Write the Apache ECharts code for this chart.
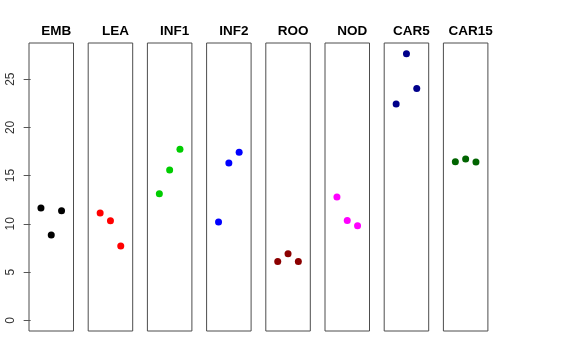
<!DOCTYPE html>
<html><head><meta charset="utf-8">
<script src="https://cdn.jsdelivr.net/npm/echarts@6/dist/echarts.min.js"></script>
<style>html,body{margin:0;padding:0;background:#fff}#c{width:576px;height:360px}</style>
</head><body><div id="c"></div>
<script>
const panels = ["EMB","LEA","INF1","INF2","ROO","NOD","CAR5","CAR15"];
const colors = ["#000000","#FF0000","#00CD00","#0000FF","#8B0000","#FF00FF","#00008B","#006400"];
const EMB = [11.64, 8.84, 11.36];
const LEA = [11.12, 10.32, 7.70];
const INF1 = [13.12, 15.58, 17.72];
const INF2 = [10.19, 16.30, 17.41];
const ROO = [6.11, 6.90, 6.11];
const NOD = [12.78, 10.36, 9.80];
const CAR5 = [22.41, 27.63, 24.04];
const CAR15 = [16.44, 16.72, 16.40];
const values = [EMB, LEA, INF1, INF2, ROO, NOD, CAR5, CAR15];
const yTicks = [0, 5, 10, 15, 20, 25];
const xPos = [1, 2, 3];

const yMax = 27.64, yMin = 0;
const yPad = (yMax - yMin) * 0.04;
const xPad = 4 * 0.04;
const font = "'Liberation Sans', Arial, Helvetica, sans-serif";

const grids = [], xAxes = [], yAxes = [], series = [], titles = [];
panels.forEach((name, i) => {
  const left = 29 + i * 59.2;
  grids.push({left: left, top: 43, width: 44.5, height: 288, show: true, borderColor: '#4d4d4d', borderWidth: 1, backgroundColor: 'transparent'});
  xAxes.push({gridIndex: i, type: 'value', min: 0 - xPad, max: 4 + xPad, show: false});
  yAxes.push({
    gridIndex: i, type: 'value', min: yMin - yPad, max: yMax + yPad,
    show: i === 0,
    splitLine: {show: false},
    axisLine: {show: false},
    axisTick: {show: i === 0, length: 7, lineStyle: {color: '#555'}, customValues: yTicks},
    axisLabel: {show: i === 0, rotate: 90, margin: 12, fontSize: 12, color: '#333', fontFamily: font, customValues: yTicks}
  });
  series.push({
    type: 'scatter', xAxisIndex: i, yAxisIndex: i, symbolSize: 7,
    itemStyle: {color: colors[i], opacity: 1},
    data: values[i].map((v, k) => [xPos[k], v]),
    silent: true
  });
  titles.push({text: name, left: left + 22.25, top: 19, textAlign: 'center',
    textStyle: {fontSize: 13.5, fontWeight: 'bold', color: '#000', fontFamily: font}});
});

const chart = echarts.init(document.getElementById('c'), null, {renderer: 'canvas'});
chart.setOption({
  animation: false,
  title: titles,
  grid: grids, xAxis: xAxes, yAxis: yAxes, series: series
});
</script></body></html>
